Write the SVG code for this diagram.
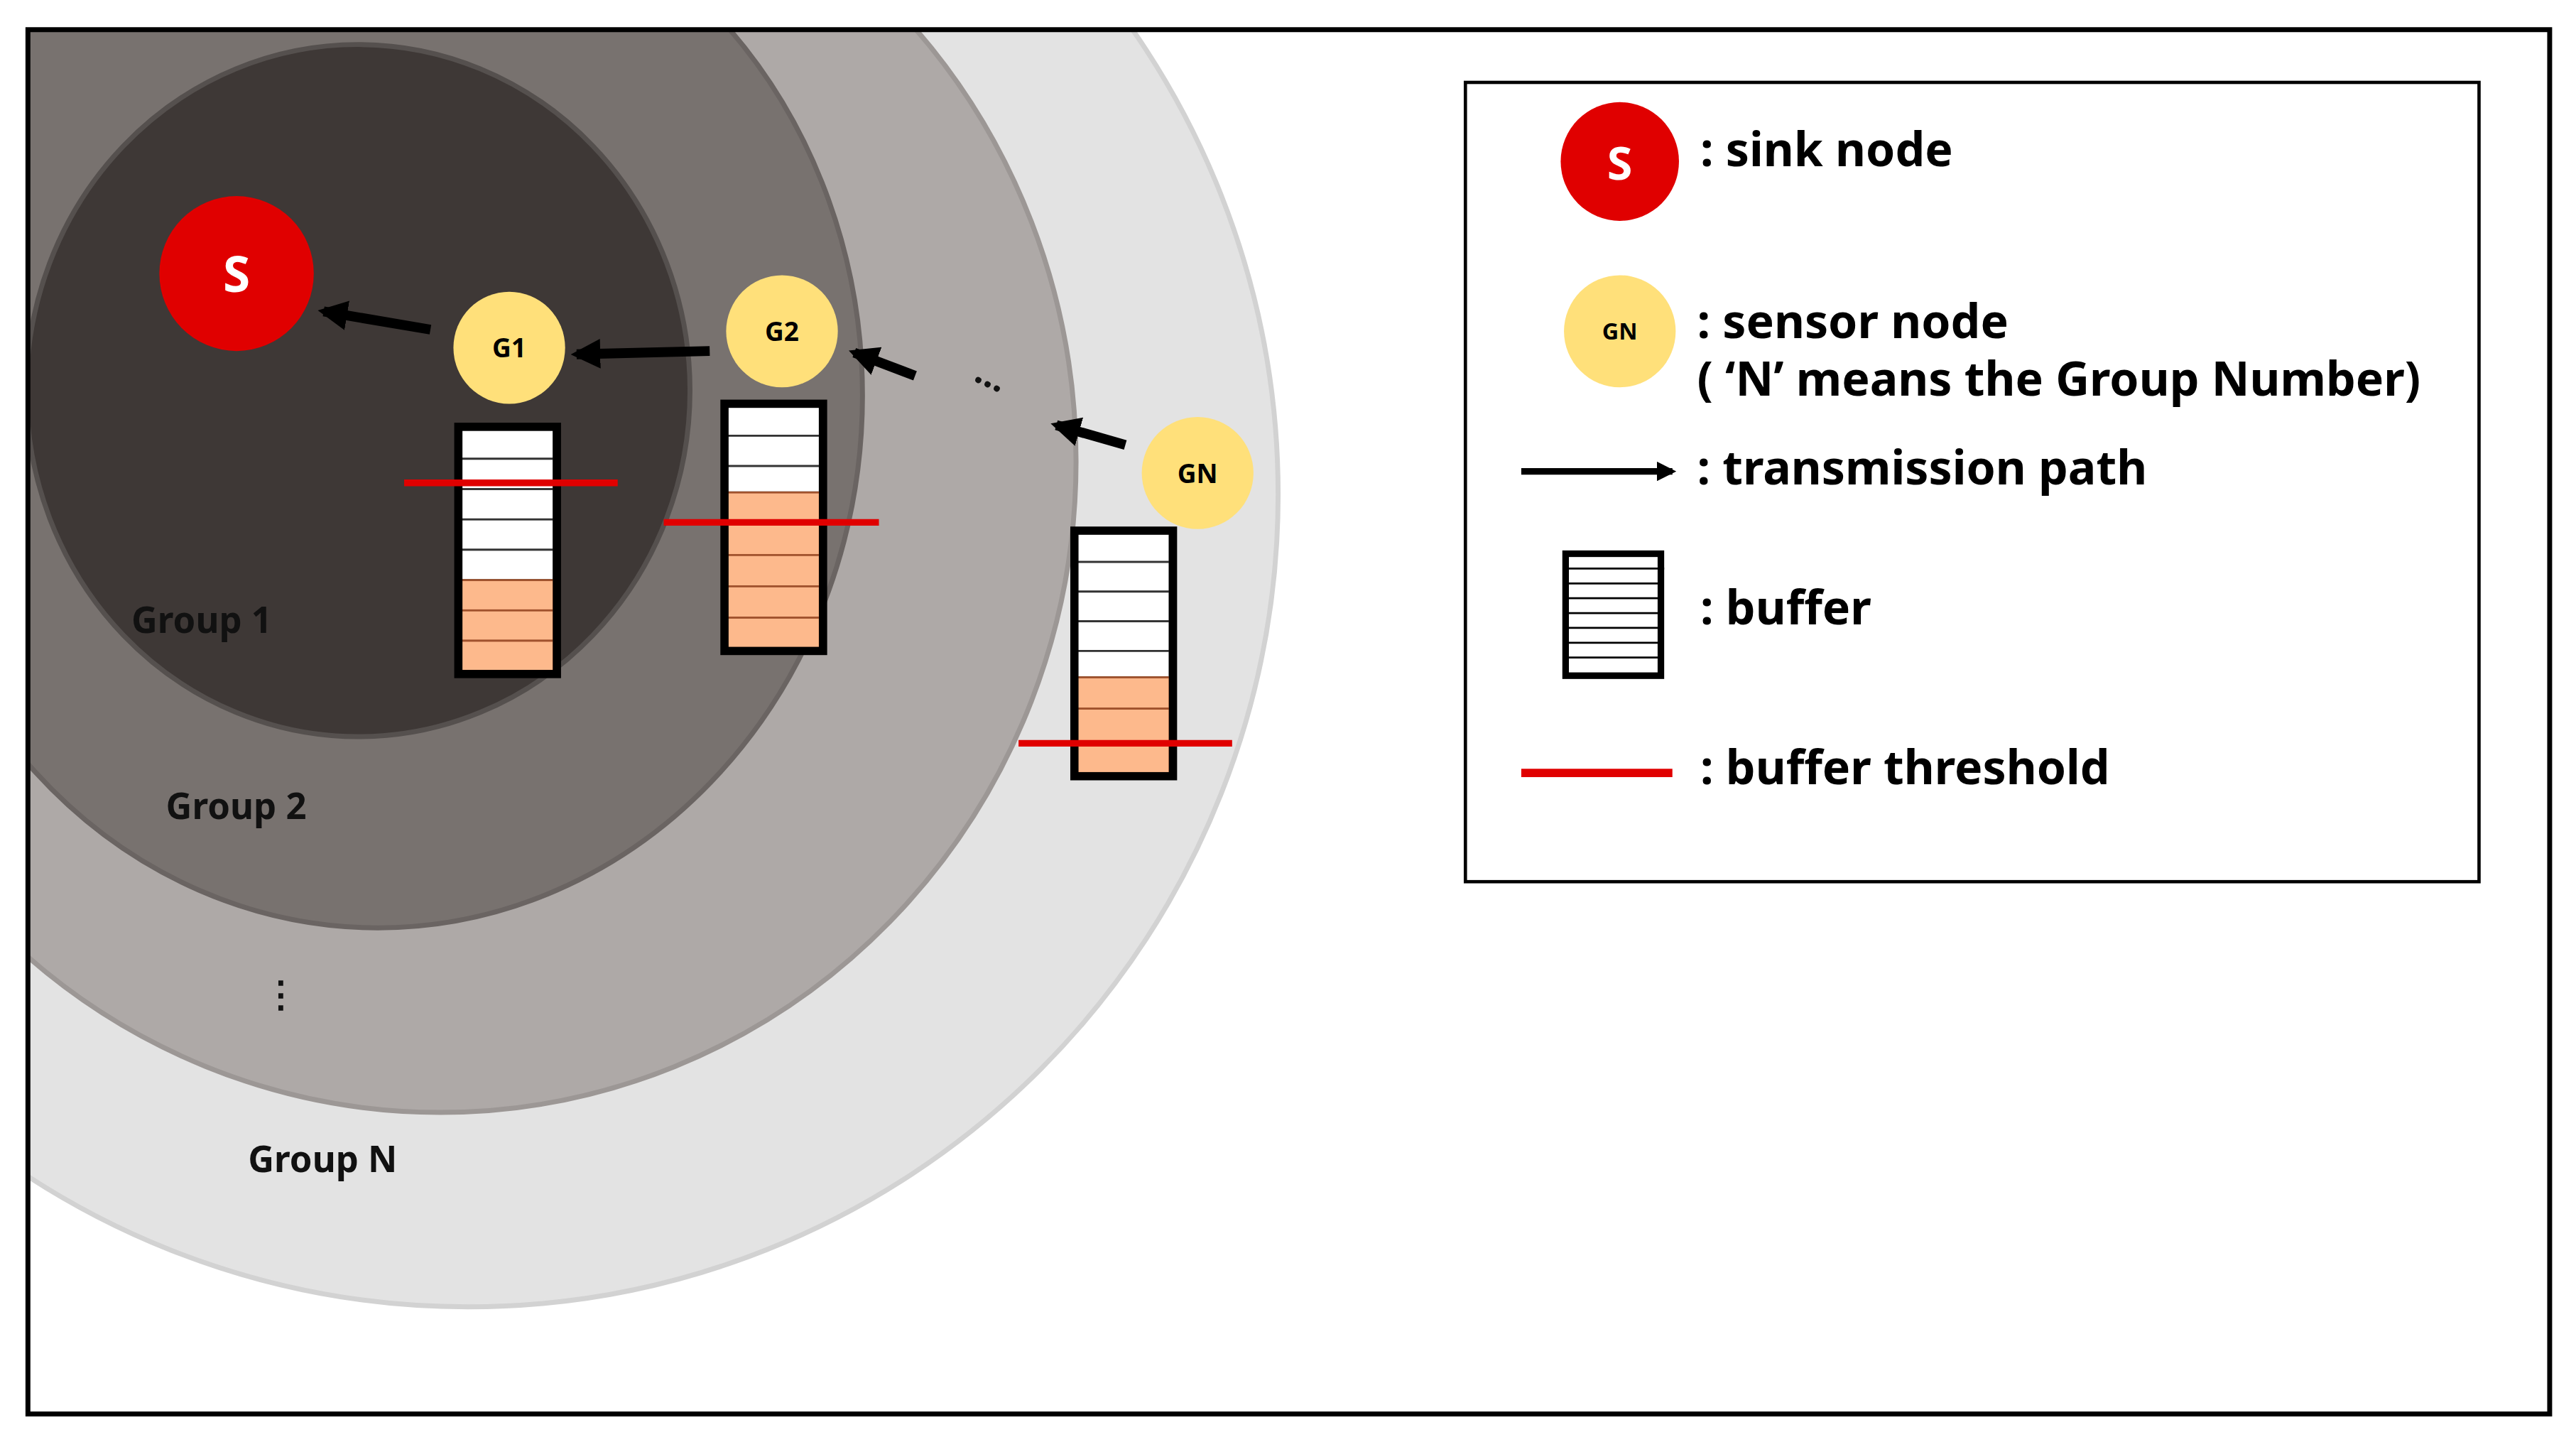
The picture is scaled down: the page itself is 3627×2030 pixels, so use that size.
<svg xmlns="http://www.w3.org/2000/svg" width="3627" height="2030" viewBox="0 0 3627 2030">
<style>
text{font-family:"Noto Sans","Open Sans","Liberation Sans",sans-serif;font-weight:bold}
.g{font-size:22px;fill:#111}
.lg{font-size:28.6px;fill:#000}
.nl{font-size:16px;fill:#000;text-anchor:middle}
.arr{stroke:#000;stroke-width:6;fill:none;marker-end:url(#ah)}
.buf{fill:none;stroke:#000;stroke-width:5}
.cw{fill:#fff;stroke:#333;stroke-width:1.2}
.co{fill:#fdb98c;stroke:#a0522d;stroke-width:1.2}
.th{stroke:#e00000;stroke-width:4}
.sn{fill:#ffe07a}
</style>
<defs>
<marker id="ah" viewBox="0 0 10 10" refX="8" refY="5" markerWidth="3" markerHeight="3" orient="auto"><path d="M0,0L10,5L0,10z" fill="#000"/></marker>
<clipPath id="fr"><rect x="17" y="18" width="1535" height="840"/></clipPath>
</defs>
<rect width="3627" height="2030" fill="#fff"/>
<g transform="scale(2.3131,2.32)">
<g id="rings" clip-path="url(#fr)">
<ellipse cx="285" cy="300" rx="493" ry="493" fill="#e3e3e3" stroke="#d2d2d2" stroke-width="3"/>
<ellipse cx="268" cy="280" rx="387" ry="395" fill="#aea9a7" stroke="#9c9795" stroke-width="3"/>
<ellipse cx="230" cy="240" rx="295" ry="323" fill="#78726f" stroke="#6a6462" stroke-width="3"/>
<ellipse cx="218" cy="237" rx="202" ry="210" fill="#3e3836" stroke="#55504e" stroke-width="3"/>
</g>
<rect x="17" y="18" width="1535" height="840" fill="none" stroke="#000" stroke-width="3"/>
<g id="labels">
<text class="g" x="80" y="384">Group 1</text>
<text class="g" x="101" y="497">Group 2</text>
<text class="g" x="160" y="611">⋮</text>
<text class="g" x="151" y="711">Group N</text>
<text class="g" x="590" y="236" transform="rotate(25 603 238)">...</text>
</g>
<g id="connectors">
<line class="arr" x1="262" y1="200" x2="197" y2="189"/>
<line class="arr" x1="432" y1="213" x2="351" y2="215"/>
<line class="arr" x1="557" y1="228" x2="520" y2="214"/>
<line class="arr" x1="685" y1="270" x2="643" y2="258"/>
</g>
<g id="node-S"><circle cx="144" cy="166" r="47" fill="#e00000"/><text x="144" y="177" font-size="30" fill="#fff" text-anchor="middle">S</text></g>
<g id="node-G1"><circle class="sn" cx="310" cy="211" r="34"/><text class="nl" x="310" y="217">G1</text></g>
<g id="node-G2"><circle class="sn" cx="476" cy="201" r="34"/><text class="nl" x="476" y="207">G2</text></g>
<g id="node-GN"><circle class="sn" cx="729" cy="287" r="34"/><text class="nl" x="729" y="293" font-size="15">GN</text></g>
<g id="buffer-G1">
<rect class="cw" x="280" y="260" width="57" height="18.4"/><rect class="cw" x="280" y="278.4" width="57" height="18.4"/><rect class="cw" x="280" y="296.8" width="57" height="18.4"/><rect class="cw" x="280" y="315.2" width="57" height="18.4"/><rect class="cw" x="280" y="333.6" width="57" height="18.4"/>
<rect class="co" x="280" y="352" width="57" height="18.4"/><rect class="co" x="280" y="370.4" width="57" height="18.4"/><rect class="co" x="280" y="388.8" width="57" height="18.4"/>
<rect class="buf" x="279" y="259" width="60" height="150"/>
<line class="th" x1="246" y1="293" x2="376" y2="293"/>
</g>
<g id="buffer-G2">
<rect class="cw" x="442" y="246" width="57" height="18.4"/><rect class="cw" x="442" y="264.4" width="57" height="18.4"/><rect class="cw" x="442" y="282.8" width="57" height="16"/>
<rect class="co" x="442" y="298.8" width="57" height="19"/><rect class="co" x="442" y="317.8" width="57" height="19"/><rect class="co" x="442" y="336.8" width="57" height="19"/><rect class="co" x="442" y="355.8" width="57" height="19"/><rect class="co" x="442" y="374.8" width="57" height="19"/>
<rect class="buf" x="441" y="245" width="60" height="150"/>
<line class="th" x1="404" y1="317" x2="535" y2="317"/>
</g>
<g id="buffer-GN">
<rect class="cw" x="655" y="323" width="57" height="18"/><rect class="cw" x="655" y="341" width="57" height="18"/><rect class="cw" x="655" y="359" width="57" height="18"/><rect class="cw" x="655" y="377" width="57" height="18"/><rect class="cw" x="655" y="395" width="57" height="16"/>
<rect class="co" x="655" y="411" width="57" height="19"/><rect class="co" x="655" y="430" width="57" height="20"/><rect class="co" x="655" y="450" width="57" height="20"/>
<rect class="buf" x="654" y="322" width="60" height="149"/>
<line class="th" x1="620" y1="451" x2="750" y2="451"/>
</g>
<g id="legend">
<rect x="892" y="50" width="617" height="485" fill="#fff" stroke="#000" stroke-width="2"/>
<circle cx="986" cy="98" r="36" fill="#e00000"/><text x="986" y="109" font-size="28" fill="#fff" text-anchor="middle">S</text>
<text class="lg" x="1035" y="101">: sink node</text>
<circle class="sn" cx="986" cy="201" r="34"/><text x="986" y="206" font-size="14" fill="#000" text-anchor="middle" font-weight="normal">GN</text>
<text class="lg" x="1033" y="205">: sensor node</text>
<text class="lg" x="1033" y="240">( ‘N’ means the Group Number)</text>
<line x1="926" y1="286" x2="1018" y2="286" stroke="#000" stroke-width="4" marker-end="url(#ah)"/>
<text class="lg" x="1033" y="294">: transmission path</text>
<rect x="953" y="336" width="58" height="74" fill="#fff" stroke="#000" stroke-width="4"/>
<path d="M955,345H1013M955,354H1011M955,363H1011M955,372H1011M955,381H1011M955,390H1011M955,399H1011" stroke="#000" stroke-width="1.2"/>
<text class="lg" x="1035" y="379">: buffer</text>
<line x1="926" y1="469" x2="1018" y2="469" stroke="#e00000" stroke-width="5"/>
<text class="lg" x="1035" y="476">: buffer threshold</text>
</g>
</g>
</svg>
